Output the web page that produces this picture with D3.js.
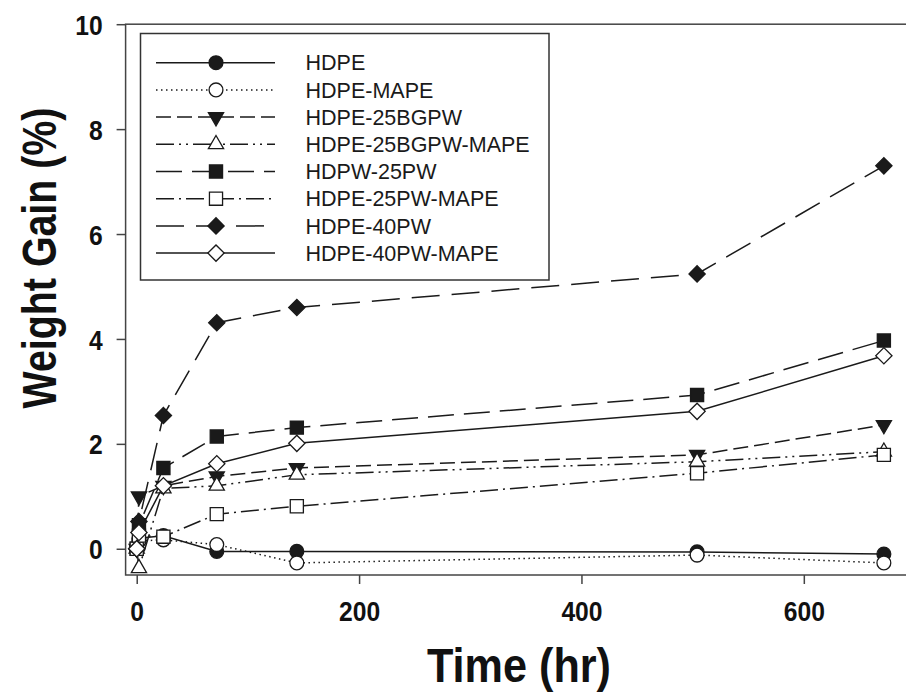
<!DOCTYPE html>
<html>
<head>
<meta charset="utf-8">
<script src="https://cdn.jsdelivr.net/npm/d3@7"></script>
<style>
  body { margin: 0; background: #fff; }
  svg { display: block; }
</style>
</head>
<body>
<div id="chart"></div>
<script>
// Data
const times = [0, 2, 24, 72, 144, 504, 672]
const seriesNames = ["HDPE", "HDPE-MAPE", "HDPE-25BGPW", "HDPE-25BGPW-MAPE",
                     "HDPW-25PW", "HDPE-25PW-MAPE", "HDPE-40PW", "HDPE-40PW-MAPE"]
const hdpe          = [0, 0.20, 0.25, -0.05, -0.05, -0.06, -0.10]
const hdpeMape      = [0, 0.15, 0.17, 0.08, -0.27, -0.12, -0.27]
const bgpw25        = [0, 1.00, 1.20, 1.38, 1.54, 1.79, 2.36]
const bgpw25Mape    = [0, -0.37, 1.15, 1.20, 1.41, 1.66, 1.85]
const pw25          = [0, 0.45, 1.54, 2.14, 2.31, 2.93, 3.97]
const pw25Mape      = [0, 0.25, 0.23, 0.66, 0.81, 1.44, 1.79]
const pw40          = [0, 0.52, 2.54, 4.31, 4.60, 5.24, 7.30]
const pw40Mape      = [0, 0.31, 1.20, 1.62, 2.01, 2.62, 3.68]
const xTicks = [0, 200, 400, 600]
const yTicks = [0, 2, 4, 6, 8, 10]

const width = 906, height = 692
const ink = "#1a1a1a"

// style of each series (marker, fill, dash)
const styles = [
    { symbol: "circle",   filled: true,  dash: null },
    { symbol: "circle",   filled: false, dash: "1.5,3.5" },
    { symbol: "triDown",  filled: true,  dash: "15,6" },
    { symbol: "triUp",    filled: false, dash: "18,5,2,5,2,5" },
    { symbol: "square",   filled: true,  dash: "26,10" },
    { symbol: "square",   filled: false, dash: "18,5,2,5" },
    { symbol: "diamond",  filled: true,  dash: "28,12" },
    { symbol: "diamond",  filled: false, dash: null },
]
const allValues = [hdpe, hdpeMape, bgpw25, bgpw25Mape, pw25, pw25Mape, pw40, pw40Mape]
const series = seriesNames.map((name, i) => ({
    name,
    ...styles[i],
    points: times.map((t, j) => [t, allValues[i][j]])
}))

const xScale = d3.scaleLinear().domain([-10, 700]).range([125.6, 915])
const yScale = d3.scaleLinear().domain([-0.5, 10]).range([575, 24.2])

const symbolPath = {
    circle:  d3.symbol(d3.symbolCircle, 150)(),
    square:  d3.symbol(d3.symbolSquare, 172)(),
    diamond: d3.symbol(d3.symbolSquare, 132)(),
    triUp:   d3.symbol(d3.symbolTriangle, 100)(),
    triDown: d3.symbol(d3.symbolTriangle, 100)(),
}
const symbolRotate = { diamond: 45, triDown: 180 }

function drawMarker(g, s, cx, cy) {
    g.append("path")
        .attr("d", symbolPath[s.symbol])
        .attr("transform", `translate(${cx},${cy}) rotate(${symbolRotate[s.symbol] || 0})`)
        .attr("fill", s.filled ? ink : "#fff")
        .attr("stroke", ink)
        .attr("stroke-width", 1.3)
}

const svg = d3.select("#chart").append("svg")
    .attr("width", width)
    .attr("height", height)
    .attr("viewBox", [0, 0, width, height])
    .style("font-family", "'Liberation Sans', Arial, sans-serif")

// Frame
svg.append("rect")
    .attr("x", xScale(-10))
    .attr("y", yScale(10))
    .attr("width", xScale(700) - xScale(-10))
    .attr("height", yScale(-0.5) - yScale(10))
    .attr("fill", "none")
    .attr("stroke", "#444")
    .attr("stroke-width", 1.5)

// x axis
const xAxis = svg.append("g")
    .attr("transform", `translate(0,${yScale(-0.5)})`)
    .call(d3.axisBottom(xScale).tickValues(xTicks).tickSize(9).tickFormat(d3.format("d")))
xAxis.select(".domain").remove()
xAxis.selectAll(".tick line").attr("stroke", "#444").attr("stroke-width", 1.5)
xAxis.selectAll(".tick text")
    .attr("y", 46.5).attr("dy", null)
    .attr("transform", "scale(0.88,1)")
    .attr("fill", "#111")
    .style("font-size", "28px").style("font-weight", "bold")

// y axis
const yAxis = svg.append("g")
    .attr("transform", `translate(${xScale(-10)},0)`)
    .call(d3.axisLeft(yScale).tickValues(yTicks).tickSize(9))
yAxis.select(".domain").remove()
yAxis.selectAll(".tick line").attr("stroke", "#444").attr("stroke-width", 1.5)
yAxis.selectAll(".tick text")
    .attr("x", -26).attr("dy", "0.36em")
    .attr("transform", "scale(0.88,1)")
    .attr("fill", "#111")
    .style("font-size", "28px").style("font-weight", "bold")

// Axis titles
svg.append("text")
    .attr("transform", `translate(56,258) rotate(-90) scale(0.82,1)`)
    .attr("text-anchor", "middle")
    .attr("fill", "#111")
    .style("font-size", "48px").style("font-weight", "bold")
    .text("Weight Gain (%)")

svg.append("text")
    .attr("transform", `translate(519,682) scale(0.9,1)`)
    .attr("text-anchor", "middle")
    .attr("fill", "#111")
    .style("font-size", "48px").style("font-weight", "bold")
    .text("Time (hr)")

// Data lines and markers
const line = d3.line().x(d => xScale(d[0])).y(d => yScale(d[1]))
const dataG = svg.append("g")
series.forEach(s => {
    const g = dataG.append("g")
    g.append("path")
        .attr("d", line(s.points))
        .attr("fill", "none")
        .attr("stroke", ink)
        .attr("stroke-width", 1.5)
        .attr("stroke-dasharray", s.dash)
    s.points.forEach(p => drawMarker(g, s, xScale(p[0]), yScale(p[1])))
})

// Legend
const legend = svg.append("g")
legend.append("rect")
    .attr("x", 140.5).attr("y", 33.5)
    .attr("width", 408.5).attr("height", 246.5)
    .attr("fill", "#fff")
    .attr("stroke", "#333")
    .attr("stroke-width", 1.5)
series.forEach((s, i) => {
    const ly = 62.7 + i * 27.2
    const g = legend.append("g")
    g.append("line")
        .attr("x1", 156).attr("x2", 275)
        .attr("y1", ly).attr("y2", ly)
        .attr("stroke", ink)
        .attr("stroke-width", 1.5)
        .attr("stroke-dasharray", s.dash)
    drawMarker(g, s, 216, ly)
    g.append("text")
        .attr("x", 305.5).attr("y", ly)
        .attr("dy", "0.36em")
        .attr("fill", "#1a1a1a")
        .style("font-size", "21.5px")
        .text(s.name)
})
</script>
</body>
</html>
